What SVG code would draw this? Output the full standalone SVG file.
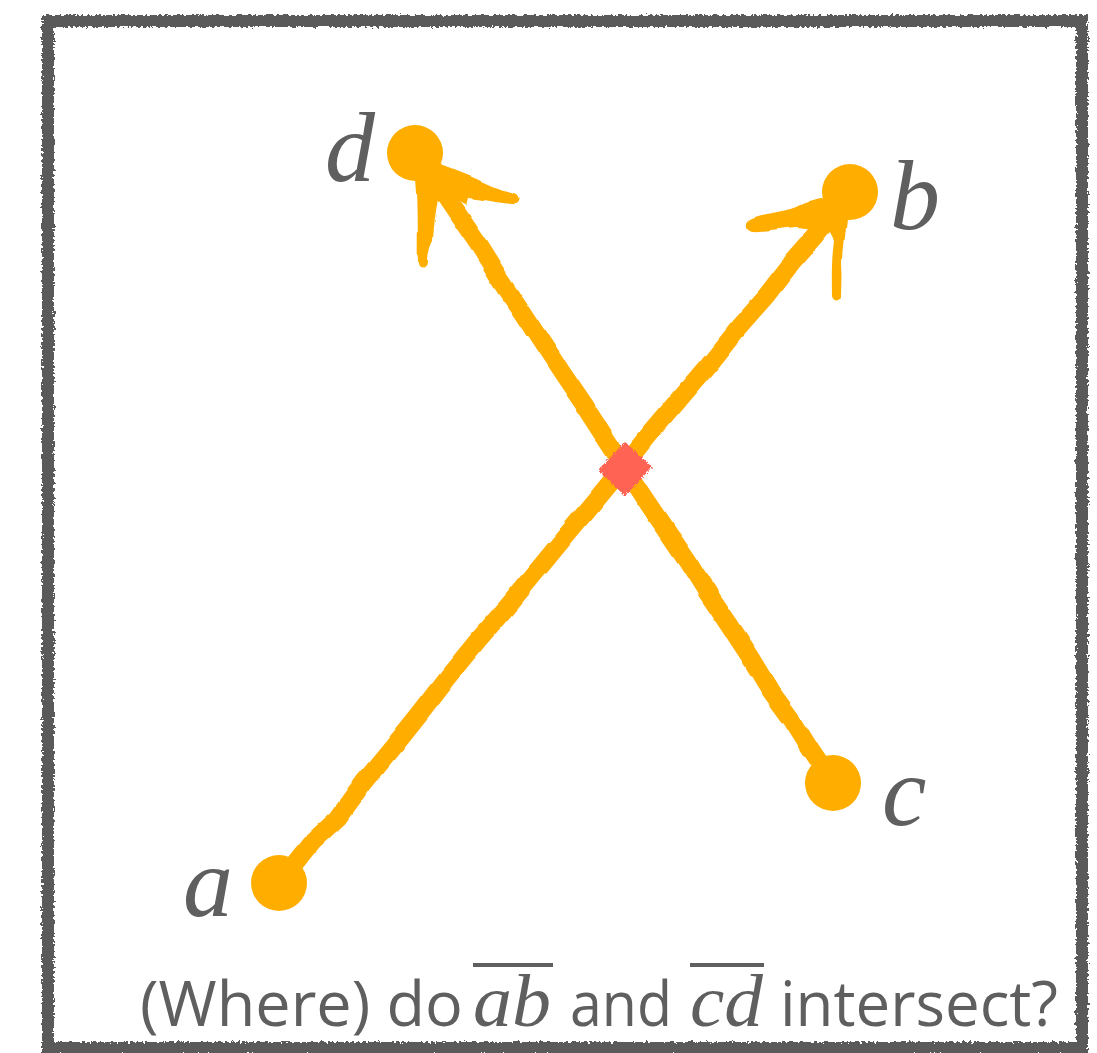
<svg xmlns="http://www.w3.org/2000/svg" width="1097" height="1053" viewBox="0 0 1097 1053">
  <defs>
    <filter id="rough" x="-5%" y="-5%" width="110%" height="110%">
      <feTurbulence type="fractalNoise" baseFrequency="0.35" numOctaves="2" seed="3" result="n"/>
      <feDisplacementMap in="SourceGraphic" in2="n" scale="6" xChannelSelector="R" yChannelSelector="G"/>
    </filter>
    <filter id="wobble" x="-10%" y="-10%" width="120%" height="120%">
      <feTurbulence type="fractalNoise" baseFrequency="0.03" numOctaves="1" seed="7" result="n"/>
      <feDisplacementMap in="SourceGraphic" in2="n" scale="7" xChannelSelector="R" yChannelSelector="G"/>
    </filter>
    <filter id="chalk" x="-20%" y="-20%" width="140%" height="140%">
      <feTurbulence type="fractalNoise" baseFrequency="0.6" numOctaves="2" seed="2" result="n"/>
      <feDisplacementMap in="SourceGraphic" in2="n" scale="5" xChannelSelector="R" yChannelSelector="G"/>
    </filter>
  </defs>
  <style>
    .frame { fill: none; stroke: #5a5a5a; stroke-width: 12; }
    .seg { fill: none; stroke: #ffae00; stroke-width: 18; stroke-linecap: round; stroke-linejoin: round; }
    .barb { fill: none; stroke: #ffae00; stroke-width: 15; stroke-linecap: round; stroke-linejoin: round; }
    .head { fill: #ffae00; }
    .pt { fill: #ffae00; }
    .lbl { font-style: italic; font-size: 100px; fill: #5f5f5f; }
    .cap { font-family: "Open Sans", "Noto Sans", "DejaVu Sans", sans-serif; font-size: 62px; fill: #5f5f5f; }
    .math { font-style: italic; font-size: 74px; fill: #5f5f5f; }
    .bar { stroke: #5f5f5f; stroke-width: 4; }
  </style>
  <rect width="1097" height="1053" fill="#ffffff"/>
  <g id="frame" filter="url(#rough)">
    <rect class="frame" x="48" y="21" width="1034" height="1027"/>
  </g>
  <g id="connectors" filter="url(#wobble)">
    <path id="edge-ab" class="seg" d="M279,883 L312,842 L338,818 L364,782 L392,748 L420,713 L447,678 L478,640 L507,607 L536,572 L564,538 L594,502 L622,468 L650,433 L679,399 L708,365 L736,330 L766,296 L793,261 L815,236 L840,205"/>
    <path id="edge-cd" class="seg" d="M833,783 L812,752 L792,720 L770,690 L750,657 L729,625 L708,594 L688,562 L667,531 L646,500 L625,468 L604,436 L584,405 L563,374 L542,342 L521,310 L500,279 L480,247 L459,216 L440,188"/>
    <path id="head-d" class="head" d="M416,180 L438,164 C455,170 475,178 492,186 C502,190 512,191 518,194 C523,198 520,204 513,204 C500,203 485,200 468,198 L466,205 C458,200 450,195 440,192 C436,205 434,225 433,240 C430,246 428,252 428,262 C427,268 418,268 418,262 C417,240 419,215 416,180 Z"/>
    <path id="head-b" class="head" d="M822,198 L848,202 C846,225 842,245 842,265 C843,278 842,288 842,296 C841,302 833,302 832,296 C832,285 831,262 834,240 L828,228 C815,232 805,228 795,228 C780,229 765,233 752,232 C745,230 745,222 752,219 C765,214 780,214 795,208 C805,203 812,200 822,198 Z"/>
  </g>
  <g id="node-a">
    <circle class="pt" cx="279" cy="883" r="28"/>
    <text class="lbl" font-family="Liberation Serif, Tinos, Times New Roman, DejaVu Serif, serif" x="183" y="916">a</text>
  </g>
  <g id="node-b">
    <circle class="pt" cx="850" cy="192" r="28"/>
    <text class="lbl" font-family="Liberation Serif, Tinos, Times New Roman, DejaVu Serif, serif" x="890" y="229">b</text>
  </g>
  <g id="node-c">
    <circle class="pt" cx="833" cy="783" r="28"/>
    <text class="lbl" font-family="Liberation Serif, Tinos, Times New Roman, DejaVu Serif, serif" x="882" y="825">c</text>
  </g>
  <g id="node-d">
    <circle class="pt" cx="415" cy="153" r="28"/>
    <text class="lbl" font-family="Liberation Serif, Tinos, Times New Roman, DejaVu Serif, serif" x="325" y="181">d</text>
  </g>
  <g id="intersection" filter="url(#chalk)">
    <polygon points="625,442 652,467 625,496 598,470" fill="#ff6452"/>
  </g>
  <g id="caption">
    <text class="cap" x="140" y="1026" textLength="323" lengthAdjust="spacingAndGlyphs">(Where) do</text>
    <text class="math" font-family="Liberation Serif, Tinos, Times New Roman, DejaVu Serif, serif" x="473" y="1026" textLength="78" lengthAdjust="spacingAndGlyphs">ab</text>
    <line class="bar" x1="473" y1="965" x2="553" y2="965"/>
    <text class="cap" x="570" y="1026" textLength="102" lengthAdjust="spacingAndGlyphs">and</text>
    <text class="math" font-family="Liberation Serif, Tinos, Times New Roman, DejaVu Serif, serif" x="690" y="1026" textLength="73" lengthAdjust="spacingAndGlyphs">cd</text>
    <line class="bar" x1="690" y1="965" x2="764" y2="965"/>
    <text class="cap" x="780" y="1026" textLength="278" lengthAdjust="spacingAndGlyphs">intersect?</text>
  </g>
</svg>
